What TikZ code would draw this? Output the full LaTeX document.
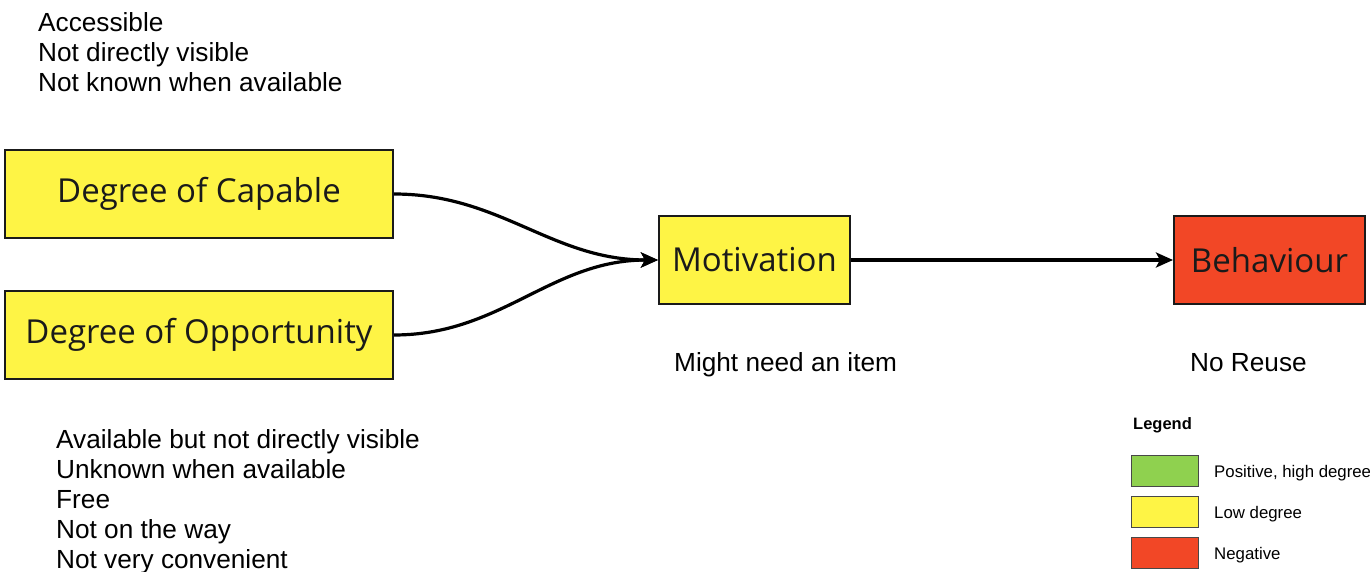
\documentclass[tikz,border=0pt]{standalone}
\usepackage{fontspec}
\setmainfont{Liberation Sans}
\newfontfamily\boxfont{Open Sans}
\usetikzlibrary{arrows.meta}
\definecolor{ylw}{HTML}{FEF445}
\definecolor{rd}{HTML}{F24726}
\definecolor{grn}{HTML}{8FD14F}
\definecolor{bdr}{HTML}{1A1A1A}
\tikzset{
  box/.style={draw=bdr, line width=2pt, inner sep=0pt, font=\boxfont\fontsize{33}{40}\selectfont, text=bdr},
  note/.style={anchor=base west, inner sep=0pt, font=\fontsize{26.2}{30}\selectfont, text=black},
  leg/.style={anchor=base west, inner sep=0pt, font=\fontsize{16.8}{20}\selectfont, text=black},
  swatch/.style={draw=bdr!80, line width=1pt, minimum width=67pt, minimum height=31pt, inner sep=0pt},
  conn/.style={line width=3.2pt, draw=black, -{Stealth[length=17pt,width=15pt,inset=4pt]}}
}
\begin{document}
\begin{tikzpicture}[x=1pt,y=-1pt]
\useasboundingbox (0,0) rectangle (1370,572);
\node[box, fill=ylw, minimum width=388pt, minimum height=88pt] (cap) at (199,194) {Degree of Capable};
\node[box, fill=ylw, minimum width=388pt, minimum height=88pt] (opp) at (199,335) {Degree of Opportunity};
\node[box, fill=ylw, minimum width=191pt, minimum height=88pt] (mot) at (754.5,260) {Motivation};
\node[box, fill=rd, minimum width=191pt, minimum height=88pt] (beh) at (1269.5,260) {Behaviour};

\draw[conn] (cap.east) to[out=0,in=180] (mot.west);
\draw[conn] (opp.east) to[out=0,in=180] (mot.west);
\draw[conn] (mot.east) -- (beh.west);

\node[note] (t1) at (38,31.3) {Accessible};
\node[note] (t2) at (38,61.3) {Not directly visible};
\node[note] (t3) at (38,91.3) {Not known when available};

\node[note] (b1) at (56,448) {Available but not directly visible};
\node[note] (b2) at (56,478) {Unknown when available};
\node[note] (b3) at (56,508) {Free};
\node[note] (b4) at (56,538) {Not on the way};
\node[note] (b5) at (56,568) {Not very convenient};

\node[note] (m1) at (674,371) {Might need an item};
\node[note] (n1) at (1190,371) {No Reuse};

\node[leg, font=\bfseries\fontsize{16.5}{20}\selectfont] (lg) at (1133,429.5) {Legend};
\node[swatch, fill=grn] (s1) at (1164.5,470.5) {};
\node[swatch, fill=ylw] (s2) at (1164.5,511.5) {};
\node[swatch, fill=rd] (s3) at (1164.5,552.5) {};
\node[leg] (l1) at (1214,477) {Positive, high degree};
\node[leg] (l2) at (1214,518) {Low degree};
\node[leg] (l3) at (1214,559) {Negative};
\end{tikzpicture}
\end{document}
